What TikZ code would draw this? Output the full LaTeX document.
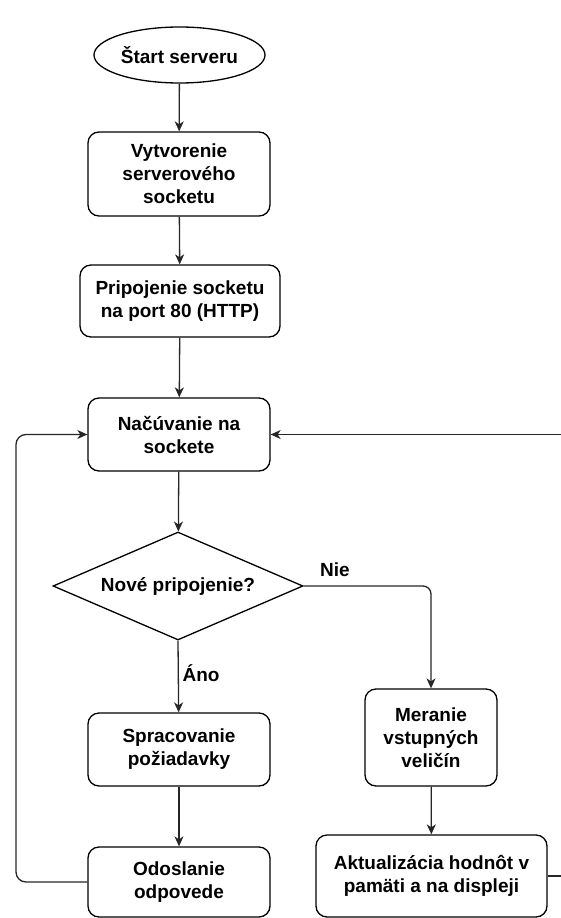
\documentclass[tikz,border=0pt]{standalone}
\usepackage{fontspec}
\setmainfont{Liberation Sans}
\usetikzlibrary{arrows.meta,shapes.geometric}
\begin{document}
\begin{tikzpicture}[x=1pt,y=-1pt,
  every node/.style={font=\bfseries\fontsize{19}{23}\selectfont, align=center, inner sep=0pt},
  box/.style={draw, rounded corners=11pt, line width=1.3pt},
  term/.style={draw, ellipse, line width=1.3pt},
  decision/.style={draw, diamond, aspect=2.3, line width=1.3pt},
  conn/.style={line width=1.3pt, draw=black!85},
  arr/.style={conn, -{Stealth[length=10pt,width=9pt,inset=3pt]}},
  lbl/.style={}
]
\useasboundingbox (0,0) rectangle (561,918);

\node[term, minimum width=171pt, minimum height=56pt] (start) at (179.5,55) {Štart serveru};
\node[box, minimum width=182pt, minimum height=84pt] (b1) at (179,174) {Vytvorenie\\serverového\\socketu};
\node[box, minimum width=200pt, minimum height=72pt] (b2) at (180,301) {Pripojenie socketu\\na port 80 (HTTP)};
\node[box, minimum width=182pt, minimum height=73pt] (b3) at (179,434.5) {Načúvanie na\\sockete};
\node[decision, minimum width=250pt, minimum height=108pt] (d) at (178,586) {Nové pripojenie?};
\node[box, minimum width=182pt, minimum height=73pt] (sp) at (179,749.5) {Spracovanie\\požiadavky};
\node[box, minimum width=182pt, minimum height=70pt] (od) at (179,882) {Odoslanie\\odpovede};
\node[box, minimum width=132pt, minimum height=97pt] (me) at (431,737.5) {Meranie\\vstupných\\veličín};
\node[box, minimum width=231pt, minimum height=82pt] (ak) at (431.5,876) {Aktualizácia hodnôt v\\pamäti a na displeji};

\node[lbl] (nie) at (335,570) {Nie};
\node[lbl] (ano) at (201,673) {Áno};

\coordinate (rin) at (561,434.5);
\coordinate (rout) at (561,876);
\coordinate (lc) at (16,434.5);

\draw[arr] (start) -- (b1);
\draw[arr] (b1) -- (b2);
\draw[arr] (b2) -- (b3);
\draw[arr] (b3) -- (d);
\draw[arr] (d.south) -- (sp);
\draw[arr] (sp) -- (od);
\draw[arr, rounded corners=8pt] (d.east) -| (me.north);
\draw[arr] (me) -- (ak);
\draw[arr] (rin) -- (b3.east);
\draw[conn] (ak.east) -- (rout);
\draw[arr, rounded corners=10pt] (od.west) -| (lc) -- (b3.west);
\end{tikzpicture}
\end{document}
